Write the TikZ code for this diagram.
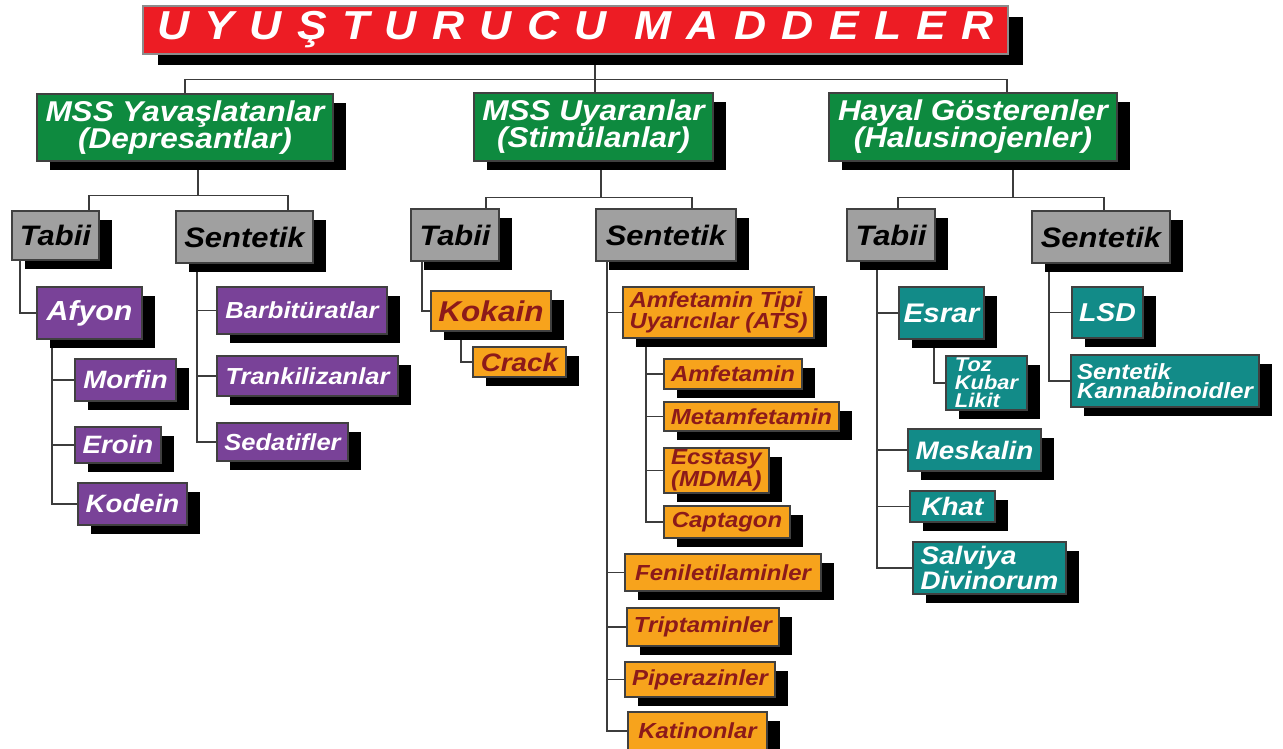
\documentclass[tikz,border=0pt]{standalone}
\usepackage{fontspec}
\setmainfont{Liberation Sans}[FakeStretch=1.1]
\usetikzlibrary{shadows,calc,backgrounds}
\definecolor{titlered}{RGB}{237,28,36}
\definecolor{mssgreen}{RGB}{14,138,63}
\definecolor{groupgray}{RGB}{160,160,160}
\definecolor{depurple}{RGB}{121,66,152}
\definecolor{stimorange}{RGB}{247,163,28}
\definecolor{stimtext}{RGB}{140,26,26}
\definecolor{haluteal}{RGB}{18,139,136}
\definecolor{linegray}{RGB}{60,60,60}
\newcommand{\boxfont}[2]{\fontsize{#1}{#2}\selectfont\bfseries\itshape}

\begin{document}
\begin{tikzpicture}[x=0.02cm, y=-0.02cm,
    drug/.style={rectangle, draw=black!75, line width=0.6pt, inner sep=1pt, align=center,
        drop shadow={shadow xshift=0.26cm, shadow yshift=-0.18cm, fill=black, opacity=1}},
    sz/.style 2 args={minimum width=#1*0.02cm, minimum height=#2*0.02cm},
    headbox/.style={rectangle, fill=titlered, draw=black!45, line width=1.4pt, text=white,
        drop shadow={shadow xshift=0.3cm, shadow yshift=-0.22cm, fill=black, opacity=1},
        font=\boxfont{23}{23}},
    mssbox/.style={drug, fill=mssgreen, text=white, font=\boxfont{16.3}{15.4}},
    typebox/.style={drug, fill=groupgray, text=black, font=\boxfont{16}{16}},
    depbox/.style={drug, fill=depurple, text=white},
    stimbox/.style={drug, fill=stimorange, text=stimtext},
    halbox/.style={drug, fill=haluteal, text=white},
    link/.style={draw=linegray, line width=0.7pt}
]
\useasboundingbox (0,0) rectangle (1283,749);

% Title
\node[headbox, sz={865}{44}] (head) at (575.5,30) {\addfontfeature{FakeStretch=1.1,LetterSpace=38}UYUŞTURUCU MADDELER};

% Main groups
\node[mssbox, sz={296}{67}] (yav) at (185,127.5) {MSS Yavaşlatanlar\\(Depresantlar)};
\node[mssbox, sz={239}{68}] (uya) at (593.5,127) {MSS Uyaranlar\\(Stimülanlar)};
\node[mssbox, sz={288}{68}] (hay) at (973,127) {Hayal Gösterenler\\(Halusinojenler)};

% Tabii / Sentetik
\node[typebox, sz={87}{49}] (tab1) at (55.5,235.5) {Tabii};
\node[typebox, sz={137}{52}] (sen1) at (244.5,237) {Sentetik};
\node[typebox, sz={88}{52}] (tab2) at (455,235) {Tabii};
\node[typebox, sz={140}{52}] (sen2) at (666,235) {Sentetik};
\node[typebox, sz={88}{52}] (tab3) at (891,235) {Tabii};
\node[typebox, sz={138}{52}] (sen3) at (1101,237) {Sentetik};

% Depresantlar
\node[depbox, sz={105}{52}, font=\boxfont{15.7}{15.7}] (afy) at (89.5,313) {Afyon};
\node[depbox, sz={101}{42}, font=\boxfont{14.3}{14.3}] (mor) at (125.5,380) {Morfin};
\node[depbox, sz={86}{36}, font=\boxfont{14.3}{14.3}] (ero) at (118,445) {Eroin};
\node[depbox, sz={109}{42}, font=\boxfont{14.3}{14.3}] (kod) at (132.5,504) {Kodein};
\node[depbox, sz={170}{47}, font=\boxfont{13.2}{13.2}] (bar) at (302,310.5) {Barbitüratlar};
\node[depbox, sz={181}{40}, font=\boxfont{13.2}{13.2}] (tra) at (307.5,376) {Trankilizanlar};
\node[depbox, sz={131}{38}, font=\boxfont{13.2}{13.2}] (sed) at (282.5,442) {Sedatifler};

% Stimulanlar
\node[stimbox, sz={120}{40}, font=\boxfont{16.3}{16.3}] (kok) at (491,311) {Kokain};
\node[stimbox, sz={93}{30}, font=\boxfont{14.4}{14.4}] (cra) at (519.5,362) {Crack};
\node[stimbox, sz={191}{51}, font=\boxfont{12.4}{11.6}, align=left] (ats) at (718.5,312.5) {Amfetamin Tipi\\Uyarıcılar (ATS)};
\node[stimbox, sz={138}{30}, font=\boxfont{12.4}{12.4}] (amf) at (733,374) {Amfetamin};
\node[stimbox, sz={175}{29}, font=\boxfont{12.4}{12.4}] (met) at (751.5,416.5) {Metamfetamin};
\node[stimbox, sz={105}{45}, font=\boxfont{12.4}{12.4}, align=left] (ecs) at (716.5,470.5) {Ecstasy\\(MDMA)};
\node[stimbox, sz={126}{32}, font=\boxfont{12.4}{12.4}] (cap) at (727,522) {Captagon};
\node[stimbox, sz={196}{37}, font=\boxfont{12.4}{12.4}] (fen) at (723,572.5) {Feniletilaminler};
\node[stimbox, sz={152}{38}, font=\boxfont{12.4}{12.4}] (tri) at (703,627) {Triptaminler};
\node[stimbox, sz={150}{35}, font=\boxfont{12.4}{12.4}] (pip) at (700,679.5) {Piperazinler};
\node[stimbox, sz={139}{38}, font=\boxfont{12.4}{12.4}] (kat) at (697.5,731) {Katinonlar};

% Halusinojenler
\node[halbox, sz={85}{52}, font=\boxfont{15.3}{15.3}] (esr) at (941.5,313) {Esrar};
\node[halbox, sz={81}{54}, font=\boxfont{11.3}{10.2}, align=left] (toz) at (986.5,383) {Toz\\Kubar\\Likit};
\node[halbox, sz={133}{42}, font=\boxfont{14.4}{14.4}] (mes) at (974.5,450) {Meskalin};
\node[halbox, sz={85}{31}, font=\boxfont{14.4}{14.4}] (kha) at (952.5,506.5) {Khat};
\node[halbox, sz={153}{52}, font=\boxfont{14.4}{12.8}, align=left] (sal) at (989.5,568) {Salviya\\Divinorum};
\node[halbox, sz={71}{51}, font=\boxfont{14.7}{14.7}] (lsd) at (1107.5,312.5) {LSD};
\node[halbox, sz={188}{52}, font=\boxfont{12.5}{11}, align=left] (ska) at (1165,381) {Sentetik\\Kannabinoidler};

% Connectors
\begin{scope}[on background layer]
\draw[link] ($(head.south)+(19.5,0)$) -- ($(uya.north)+(1.5,0)$);
\draw[link] (yav.north) -- ++(0,-14) -| ($(hay.north)+(34,0)$);
\draw[link] ($(yav.south)+(13,0)$) -- ++(0,34) -| ($(tab1.north)+(33.5,0)$);
\draw[link] ($(yav.south)+(13,34)$) -| ($(sen1.north)+(43.5,0)$);
\draw[link] ($(uya.south)+(7.5,0)$) -- ++(0,36) -| ($(tab2.north)+(31,0)$);
\draw[link] ($(uya.south)+(7.5,36)$) -| ($(sen2.north)+(26,0)$);
\draw[link] ($(hay.south)+(40,0)$) -- ++(0,36) -| ($(tab3.north)+(7,0)$);
\draw[link] ($(hay.south)+(40,36)$) -| ($(sen3.north)+(3,0)$);
\draw[link] ($(tab1.south)+(-35.5,0)$) |- (afy.west);
\foreach \c in {mor,ero,kod} \draw[link] ($(afy.south)+(-37.5,0)$) |- (\c.west);
\foreach \c in {bar,tra,sed} \draw[link] ($(sen1.south)+(-47.5,0)$) |- (\c.west);
\draw[link] ($(tab2.south)+(-33,0)$) |- (kok.west);
\draw[link] ($(kok.south)+(-30,0)$) |- (cra.west);
\foreach \c in {ats,fen,tri,pip,kat} \draw[link] ($(sen2.south)+(-59,0)$) |- (\c.west);
\foreach \c in {amf,met,ecs,cap} \draw[link] ($(ats.south)+(-72.5,0)$) |- (\c.west);
\foreach \c in {esr,mes,kha,sal} \draw[link] ($(tab3.south)+(-14,0)$) |- (\c.west);
\draw[link] ($(esr.south)+(-7.5,0)$) |- (toz.west);
\foreach \c in {lsd,ska} \draw[link] ($(sen3.south)+(-52,0)$) |- (\c.west);
\end{scope}

\end{tikzpicture}
\end{document}
